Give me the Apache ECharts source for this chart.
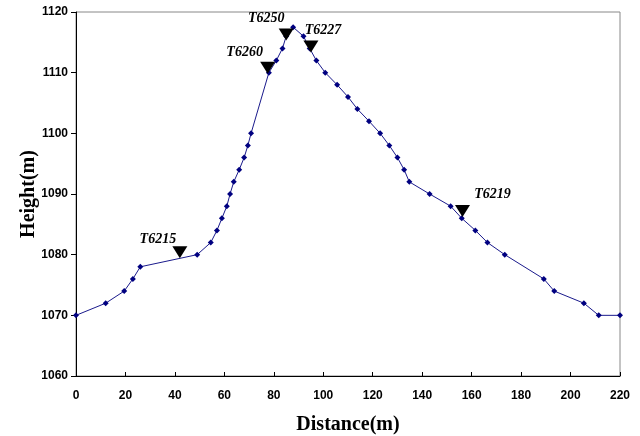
<!DOCTYPE html>
<html>
<head>
<meta charset="utf-8">
<script src="https://cdn.jsdelivr.net/npm/echarts@6/dist/echarts.min.js"></script>
<style>
html,body{margin:0;padding:0;background:#fff;}
#c{width:640px;height:436px;}
</style>
</head>
<body>
<div id="c"></div>
<script>
var distance = [0, 12, 19.5, 23, 26, 49, 54.5, 57, 59, 61, 62.3, 63.8, 66, 68, 69.5, 70.8, 78, 81, 83.5, 85, 87.8, 92, 94.5, 97.2, 100.8, 105.6, 110, 113.8, 118.5, 123, 126.7, 130, 132.7, 134.8, 143, 151.5, 156, 161.5, 166.4, 173.4, 189.2, 193.4, 205.4, 211.4, 220];
var height = [1070, 1072, 1074, 1076, 1078, 1080, 1082, 1084, 1086, 1088, 1090, 1092, 1094, 1096, 1098, 1100, 1110, 1112, 1114, 1116, 1117.5, 1116, 1114, 1112, 1110, 1108, 1106, 1104, 1102, 1100, 1098, 1096, 1094, 1092, 1090, 1088, 1086, 1084, 1082, 1080, 1076, 1074, 1072, 1070, 1070];
var stationNames = ['T6215', 'T6260', 'T6250', 'T6227', 'T6219'];
var stationDistance = [42, 77.5, 85, 95, 156.3];
var stationHeight = [1080.4, 1110.8, 1116.3, 1114.3, 1087.2];
var xTicks = [0, 20, 40, 60, 80, 100, 120, 140, 160, 180, 200, 220];
var yTicks = [1060, 1070, 1080, 1090, 1100, 1110, 1120];

var labelOffsets = {
  'T6215': [-22, -13],
  'T6260': [-23, -15],
  'T6250': [-20, -16],
  'T6227': [12, -16],
  'T6219': [30, -17]
};

var lineData = distance.map(function (d, i) { return [d, height[i]]; });
var stationData = stationNames.map(function (n, i) {
  return {
    value: [stationDistance[i], stationHeight[i]],
    name: n,
    label: {
      show: true,
      formatter: n,
      position: 'inside',
      offset: labelOffsets[n],
      fontFamily: 'Liberation Serif',
      fontWeight: 'bold',
      fontStyle: 'italic',
      fontSize: 14,
      color: '#000',
      opacity: 1
    }
  };
});

var chart = echarts.init(document.getElementById('c'), null, {renderer: 'canvas'});
chart.setOption({
  animation: false,
  backgroundColor: '#fff',
  grid: {
    left: 76, right: 20, top: 12, bottom: 60,
    outerBoundsMode: 'none',
    containLabel: false,
    show: true, borderColor: '#888', borderWidth: 1, backgroundColor: 'transparent'
  },
  xAxis: {
    type: 'value',
    min: xTicks[0], max: xTicks[xTicks.length - 1], interval: 20,
    name: 'Distance(m)', nameLocation: 'middle', nameGap: 39,
    nameMoveOverlap: false,
    nameTextStyle: {fontFamily: 'Liberation Serif', fontWeight: 'bold', fontSize: 20, color: '#000'},
    axisLine: {show: true, onZero: false, lineStyle: {color: '#000', width: 1}},
    axisTick: {show: true, inside: true, length: 4, lineStyle: {color: '#000'}},
    axisLabel: {fontFamily: 'Liberation Sans', fontWeight: 'bold', fontSize: 12, color: '#000', margin: 14},
    splitLine: {show: false}
  },
  yAxis: {
    type: 'value',
    min: yTicks[0], max: yTicks[yTicks.length - 1], interval: 10,
    name: 'Height(m)', nameLocation: 'middle', nameGap: 37, nameRotate: 90,
    nameMoveOverlap: false,
    nameTextStyle: {fontFamily: 'Liberation Serif', fontWeight: 'bold', fontSize: 20, color: '#000'},
    axisLine: {show: true, onZero: false, lineStyle: {color: '#000', width: 1}},
    axisTick: {show: true, inside: false, length: 5, lineStyle: {color: '#000'}},
    axisLabel: {fontFamily: 'Liberation Sans', fontWeight: 'bold', fontSize: 12, color: '#000', margin: 8,
      formatter: function (v) { return String(v); }},
    splitLine: {show: false}
  },
  series: [
    {
      type: 'line',
      data: lineData,
      symbol: 'diamond',
      symbolSize: 6,
      showAllSymbol: true,
      lineStyle: {color: '#1a1a8c', width: 1},
      itemStyle: {color: '#000080'},
      z: 2
    },
    {
      type: 'scatter',
      data: stationData,
      symbol: 'triangle',
      symbolRotate: 180,
      symbolSize: [15, 12],
      itemStyle: {color: '#000', opacity: 1, borderWidth: 0},
      z: 3
    }
  ]
});
</script>
</body>
</html>
